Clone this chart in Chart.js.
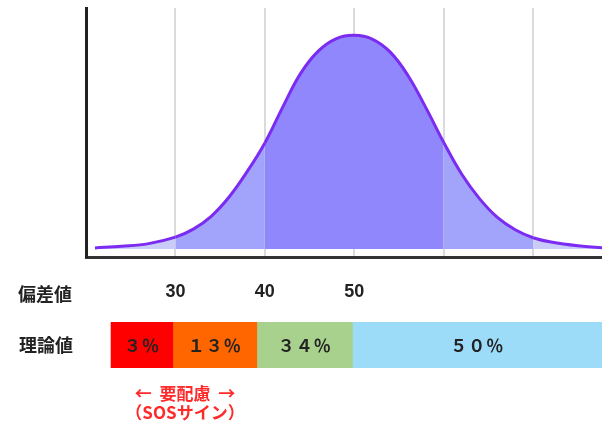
<!DOCTYPE html>
<html lang="ja">
<head>
<meta charset="utf-8">
<script src="https://cdn.jsdelivr.net/npm/chart.js@4.4.1/dist/chart.umd.min.js"></script>
<style>
  html, body { margin: 0; padding: 0; background: #fff; }
  #wrap { position: relative; width: 602px; height: 421px; overflow: hidden; font-family: "Noto Sans CJK JP", sans-serif; }
  #curve { position: absolute; left: 0; top: 0; }
  #share { position: absolute; left: 0; top: 262px; }
  .label { position: absolute; font-weight: bold; color: #222; white-space: nowrap; }
  #devLabel { left: 18px; top: 281px; font-size: 18px; line-height: 24px; }
  #note { left: 120px; top: 383px; width: 130px; text-align: center; color: #ff2a2a; font-size: 17px; line-height: 19px; }
</style>
</head>
<body>
<div id="wrap">
  <canvas id="curve" width="602" height="262"></canvas>
  <canvas id="share" width="602" height="159"></canvas>
  <div id="devLabel" class="label">偏差値</div>
  <div id="note" class="label">←&nbsp;&nbsp;要配慮&nbsp;&nbsp;→<br>（SOSサイン）</div>
</div>
<script>
// deviation score on x, height of the curve (density in %) on y
const devScores = [21, 24, 27, 30, 32, 34, 36, 38, 40, 42, 44, 46, 48, 50, 52, 54, 56, 58, 60, 62, 64, 66, 68, 70, 72, 75, 78];
const density = [0.02, 0.05, 0.10, 0.22, 0.37, 0.61, 0.97, 1.44, 1.98, 2.65, 3.28, 3.70, 3.93, 3.99, 3.92, 3.68, 3.24, 2.64, 1.99, 1.40, 0.94, 0.59, 0.36, 0.21, 0.13, 0.06, 0.02];

const gridTicks = [30, 40, 50, 60, 70];
const bandEdges = [30, 40, 60, 70];
const bandColors = ['#c9ccf9', '#a2a3fa', '#8f87fb', '#a2a3fa', '#c9ccf9'];

// bottom strip: share of students per deviation range
const shareRows = ['理論値'];
const shareTicks = [30, 40, 50];
const shareRanges = [[22.8, 29.7], [29.7, 39.1], [39.1, 49.8], [49.8, 77.7]];
const shareLabels = ['３％', '１３％', '３４％', '５０％'];
const shareColors = ['#ff0000', '#ff6600', '#a9d18e', '#9ddcf8'];

const X_MIN = 20;
const X_MAX = 77.7;

function bandColor(x) {
  const idx = bandEdges.filter(e => x >= e - 1e-9).length;
  return bandColors[idx];
}

new Chart(document.getElementById('curve'), {
  type: 'line',
  data: {
    datasets: [{
      data: devScores.map((x, i) => ({ x: x, y: density[i] })),
      borderColor: '#7b2cf0',
      borderWidth: 3,
      pointRadius: 0,
      tension: 0.4,
      fill: 'origin',
      backgroundColor: bandColors[2],
      segment: { backgroundColor: ctx => bandColor(ctx.p0.parsed.x) }
    }]
  },
  options: {
    responsive: false,
    animation: false,
    layout: { padding: { top: 8, left: 0, right: 0, bottom: 0 } },
    plugins: { legend: { display: false }, tooltip: { enabled: false } },
    scales: {
      x: {
        type: 'linear', min: X_MIN, max: X_MAX, z: 1,
        afterBuildTicks: s => { s.ticks = gridTicks.map(v => ({ value: v })); },
        afterFit: s => { s.height = 5; },
        ticks: { display: false },
        grid: { color: 'rgba(210,210,210,0.8)', lineWidth: 2, drawTicks: false },
        border: { color: '#333', width: 3 }
      },
      y: {
        min: -0.15, max: 4.5,
        afterFit: s => { s.width = 86; },
        ticks: { display: false },
        grid: { display: false, drawTicks: false },
        border: { color: '#222', width: 3 }
      }
    }
  }
});

// write the percentage in the middle of each bar
const barText = {
  id: 'barText',
  afterDatasetsDraw(chart) {
    const ctx = chart.ctx;
    ctx.save();
    ctx.font = 'bold 17px "Noto Sans CJK JP"';
    ctx.letterSpacing = '1px';
    ctx.fillStyle = '#222';
    ctx.textAlign = 'center';
    ctx.textBaseline = 'middle';
    chart.data.datasets.forEach((ds, i) => {
      const bar = chart.getDatasetMeta(i).data[0];
      ctx.fillText(shareLabels[i], (bar.x + bar.base) / 2, bar.y + 1);
    });
    ctx.restore();
  }
};

new Chart(document.getElementById('share'), {
  type: 'bar',
  data: {
    labels: shareRows,
    datasets: shareRanges.map((r, i) => ({
      data: [r],
      backgroundColor: shareColors[i],
      grouped: false,
      barPercentage: 1,
      categoryPercentage: 1,
      borderWidth: 0
    }))
  },
  options: {
    indexAxis: 'y',
    responsive: false,
    animation: false,
    layout: { padding: { top: 0, bottom: 53, left: 0, right: 0 } },
    plugins: { legend: { display: false }, tooltip: { enabled: false } },
    scales: {
      x: {
        type: 'linear', position: 'top', min: X_MIN, max: X_MAX,
        afterBuildTicks: s => { s.ticks = shareTicks.map(v => ({ value: v })); },
        afterFit: s => { s.height = 60; },
        ticks: { padding: 19, color: '#222', font: { family: '"Liberation Sans", Arial, sans-serif', size: 18, weight: 'bold' } },
        grid: { display: false, drawTicks: false },
        border: { display: false }
      },
      y: {
        afterFit: s => { s.width = 86; },
        ticks: { padding: 13, color: '#222', font: { family: '"Noto Sans CJK JP"', size: 18, weight: 'bold' } },
        grid: { display: false, drawTicks: false },
        border: { display: false }
      }
    }
  },
  plugins: [barText]
});
</script>
</body>
</html>
